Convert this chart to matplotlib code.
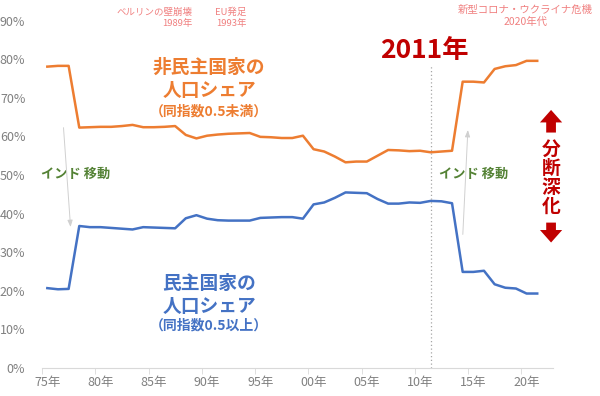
import matplotlib
matplotlib.use("Agg")
import matplotlib.pyplot as plt
import numpy as np

plt.rcParams['font.family'] = ['Noto Sans CJK JP', 'DejaVu Sans']

years = list(range(1975, 2022))

# 非民主国家の人口シェア (%)
nondemo = [78.1, 78.3, 78.3, 62.3, 62.4, 62.5, 62.5, 62.7, 63.0, 62.4,
           62.4, 62.5, 62.7, 60.4, 59.5, 60.2, 60.5, 60.7, 60.8, 60.9,
           59.9, 59.8, 59.6, 59.6, 60.2, 56.7, 56.1, 54.8, 53.3, 53.5,
           53.5, 55.0, 56.5, 56.4, 56.2, 56.3, 55.9, 56.1, 56.3, 74.2,
           74.2, 74.0, 77.5, 78.2, 78.5, 79.6, 79.6]

# 民主国家の人口シェア (%)
demo = [20.7, 20.4, 20.5, 36.8, 36.5, 36.5, 36.3, 36.1, 35.9, 36.5,
        36.4, 36.3, 36.2, 38.8, 39.6, 38.7, 38.3, 38.2, 38.2, 38.2,
        38.9, 39.0, 39.1, 39.1, 38.7, 42.4, 42.9, 44.1, 45.5, 45.4,
        45.3, 43.8, 42.6, 42.6, 42.9, 42.8, 43.3, 43.2, 42.7, 24.9,
        24.9, 25.2, 21.7, 20.8, 20.6, 19.3, 19.3]

label_years = [1975, 1980, 1985, 1990, 1995, 2000, 2005, 2010, 2015, 2020]
label_texts = ["75年", "80年", "85年", "90年", "95年", "00年", "05年", "10年", "15年", "20年"]

fig = plt.figure(figsize=(6, 3.96), dpi=100)
ax = fig.add_axes([0.07, 0.0707, 0.852, 0.877])

ax.plot(years, nondemo, color="#ED7D31", lw=1.8)
ax.plot(years, demo, color="#4472C4", lw=1.8)

ax.set_xlim(1974.5, 2022.5)
ax.set_ylim(0, 90)
ax.set_yticks(np.arange(0, 91, 10))
ax.set_yticklabels([f"{v}%" for v in range(0, 91, 10)])
ax.set_xticks(label_years)
ax.set_xticklabels(label_texts)
ax.set_xticks(np.arange(1974.5, 2023, 5), minor=True)
ax.tick_params(axis="x", which="major", length=0, colors="#808080", labelsize=9, pad=6)
ax.tick_params(axis="x", which="minor", length=4, color="#D9D9D9")
ax.tick_params(axis="y", length=0, colors="#808080", labelsize=9, pad=12)
for s in ["top", "right", "left"]:
    ax.spines[s].set_visible(False)
ax.spines["bottom"].set_color("#D9D9D9")

# 2011年の縦線
ax.plot([2011, 2011], [0, 78.3], color="#A6A6A6", lw=0.9, ls=(0, (1, 2)))

pink = "#F08080"
ax.text(1988.6, 90.7, "ベルリンの壁崩壊\n1989年", color=pink, fontsize=6.8,
        ha="right", va="center", multialignment="right", linespacing=1.3, clip_on=False)
ax.text(1993.7, 90.7, "EU発足\n1993年", color=pink, fontsize=6.8,
        ha="right", va="center", multialignment="right", linespacing=1.3, clip_on=False)
ax.text(2019.9, 91.2, "新型コロナ・ウクライナ危機\n2020年代", color=pink, fontsize=7.5,
        ha="center", va="center", linespacing=1.2, clip_on=False)

ax.text(2010.4, 82.4, "2011年", color="#C00000", fontsize=19, fontweight="bold",
        ha="center", va="center")

orange = "#ED7D31"
ax.text(1990.2, 74.9, "非民主国家の\n人口シェア", color=orange, fontsize=13.5,
        fontweight="bold", ha="center", va="center", linespacing=1.25)
ax.text(1990.2, 66.6, "（同指数0.5未満）", color=orange, fontsize=10,
        fontweight="bold", ha="center", va="center")

blue = "#4472C4"
ax.text(1990.2, 19.0, "民主国家の\n人口シェア", color=blue, fontsize=13.5,
        fontweight="bold", ha="center", va="center", linespacing=1.25)
ax.text(1990.2, 10.9, "（同指数0.5以上）", color=blue, fontsize=10,
        fontweight="bold", ha="center", va="center")

green = "#548235"
ax.text(1977.7, 50.3, "インド 移動", color=green, fontsize=9.5, fontweight="bold",
        ha="center", va="center")
ax.text(2015.0, 50.3, "インド 移動", color=green, fontsize=9.5, fontweight="bold",
        ha="center", va="center")

ax.annotate("", xy=(1977.2, 35.8), xytext=(1976.5, 63.0),
            arrowprops=dict(arrowstyle="-|>,head_width=0.15,head_length=0.4",
                            color="#D0D0D0", lw=0.7))
ax.annotate("", xy=(2014.5, 62.4), xytext=(2014.0, 33.9),
            arrowprops=dict(arrowstyle="-|>,head_width=0.15,head_length=0.4",
                            color="#D0D0D0", lw=0.7))

red = "#C00000"
ax.text(2022.3, 49.2, "分\n断\n深\n化", color=red, fontsize=13.5, fontweight="bold",
        ha="center", va="center", linespacing=1.0, clip_on=False)
ax.annotate("", xy=(2022.3, 67.6), xytext=(2022.3, 60.3),
            arrowprops=dict(arrowstyle="simple,head_width=1.6,head_length=0.9,tail_width=0.7",
                            color=red, lw=0), annotation_clip=False)
ax.annotate("", xy=(2022.3, 31.8), xytext=(2022.3, 38.4),
            arrowprops=dict(arrowstyle="simple,head_width=1.6,head_length=0.9,tail_width=0.7",
                            color=red, lw=0), annotation_clip=False)

fig.savefig("out.png", dpi=100)
